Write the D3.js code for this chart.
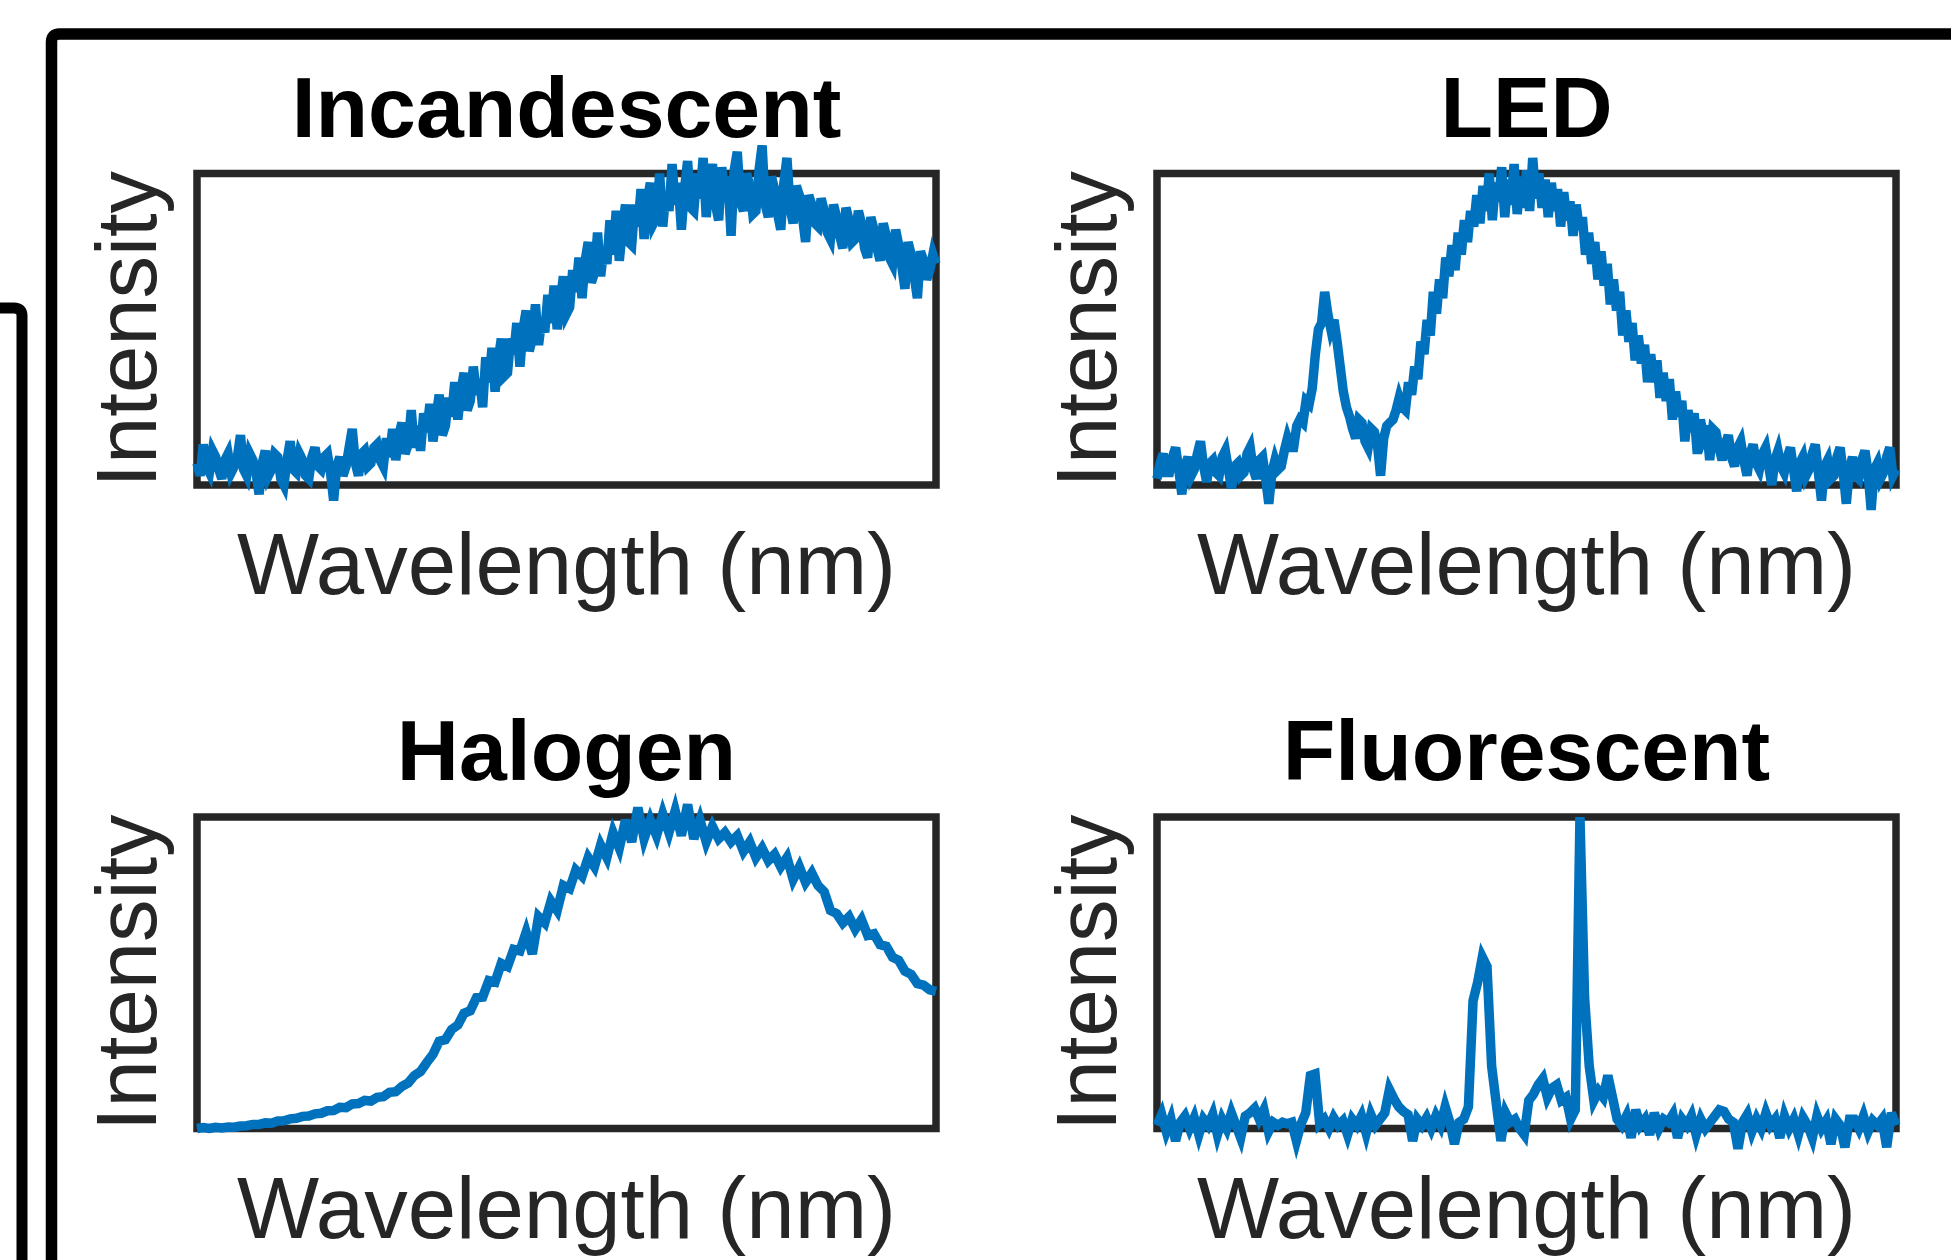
<!DOCTYPE html>
<html>
<head>
<meta charset="utf-8">
<script src="https://cdn.jsdelivr.net/npm/d3@7"></script>
<style>
  body { margin: 0; background: #fff; }
  svg { display: block; }
  text { font-family: "Liberation Sans", Arial, Helvetica, sans-serif; }
</style>
</head>
<body>
<div id="chart"></div>
<script>
// Spectra. Intensity is normalised: 0 = bottom of the box, 1 = top.
// Samples are evenly spaced over the wavelength range (range guessed from the Hg/Tb/Eu lines).
var wlStart = 335, wlEnd = 817;

var incandescent = [
  0.07, 0.03, 0.13, 0.06, 0.04, 0.11, 0.09, 0.05, 0.02, 0.08, 0.10, 0.04, 0.06, 0.09, 0.16, 0.05, 0.03, 0.10, 0.08, 0.04,
  -0.03, 0.07, 0.11, 0.03, 0.05, 0.10, 0.09, 0.02, 0.00, 0.08, 0.14, 0.05, 0.04, 0.10, 0.08, 0.03, 0.02, 0.09, 0.12, 0.06,
  0.05, 0.09, 0.10, 0.04, -0.05, 0.06, 0.09, 0.03, 0.06, 0.12, 0.18, 0.07, 0.03, 0.10, 0.11, 0.06, 0.07, 0.12, 0.13, 0.08,
  0.06, 0.15, 0.09, 0.18, 0.08, 0.16, 0.20, 0.10, 0.13, 0.24, 0.12, 0.19, 0.11, 0.23, 0.17, 0.26, 0.14, 0.22, 0.29, 0.16,
  0.19, 0.28, 0.22, 0.33, 0.21, 0.30, 0.36, 0.24, 0.27, 0.38, 0.29, 0.34, 0.25, 0.41, 0.33, 0.44, 0.30, 0.40, 0.47, 0.35,
  0.36, 0.47, 0.42, 0.52, 0.38, 0.50, 0.56, 0.43, 0.47, 0.58, 0.45, 0.53, 0.49, 0.61, 0.52, 0.64, 0.50, 0.59, 0.67, 0.55,
  0.57, 0.69, 0.62, 0.73, 0.60, 0.72, 0.78, 0.65, 0.68, 0.81, 0.67, 0.76, 0.71, 0.85, 0.74, 0.88, 0.72, 0.82, 0.90, 0.78,
  0.77, 0.90, 0.83, 0.95, 0.79, 0.91, 0.97, 0.84, 0.86, 1.00, 0.83, 0.94, 0.88, 1.03, 0.90, 0.97, 0.82, 0.95, 1.04, 0.89,
  0.88, 1.00, 0.92, 1.05, 0.86, 0.98, 1.03, 0.90, 0.85, 1.02, 0.93, 0.99, 0.80, 1.01, 1.07, 0.91, 0.88, 1.00, 0.96, 0.87,
  0.88, 1.01, 1.09, 0.90, 0.86, 0.99, 0.95, 0.87, 0.82, 0.97, 1.05, 0.89, 0.84, 0.96, 0.93, 0.86, 0.78, 0.93, 0.90, 0.84,
  0.83, 0.92, 0.88, 0.81, 0.79, 0.90, 0.86, 0.80, 0.76, 0.89, 0.85, 0.78, 0.79, 0.88, 0.84, 0.76, 0.73, 0.86, 0.82, 0.76,
  0.72, 0.84, 0.80, 0.73, 0.71, 0.82, 0.77, 0.70, 0.63, 0.78, 0.74, 0.67, 0.60, 0.75, 0.72, 0.66, 0.69, 0.74, 0.71
];

var led = [
  0.02, 0.07, 0.10, 0.04, 0.04, 0.09, 0.12, 0.05, -0.03, 0.06, 0.09, 0.03, 0.05, 0.10, 0.14, 0.06, 0.01, 0.07, 0.08, 0.04,
  0.03, 0.09, 0.11, 0.05, -0.01, 0.06, 0.07, 0.03, 0.04, 0.10, 0.12, 0.05, 0.02, 0.08, 0.09, 0.02, -0.06, 0.04, 0.08, 0.05,
  0.06, 0.11, 0.15, 0.12, 0.12, 0.19, 0.21, 0.20, 0.27, 0.26, 0.31, 0.42, 0.50, 0.52, 0.62, 0.55, 0.50, 0.53, 0.46, 0.38,
  0.30, 0.25, 0.22, 0.18, 0.15, 0.21, 0.20, 0.14, 0.12, 0.18, 0.17, 0.13, 0.03, 0.15, 0.19, 0.20, 0.21, 0.24, 0.28, 0.25,
  0.24, 0.33, 0.29, 0.38, 0.34, 0.46, 0.42, 0.53, 0.48, 0.62, 0.55, 0.66, 0.60, 0.73, 0.67, 0.77, 0.69, 0.81, 0.74, 0.85,
  0.78, 0.88, 0.83, 0.93, 0.84, 0.96, 0.88, 1.00, 0.85, 0.97, 0.91, 1.02, 0.86, 0.98, 0.90, 1.03, 0.87, 0.99, 0.89, 1.01,
  0.88, 1.05, 0.92, 1.00, 0.89, 0.98, 0.86, 0.97, 0.88, 0.95, 0.83, 0.94, 0.85, 0.91, 0.80, 0.90, 0.82, 0.86, 0.74, 0.81,
  0.71, 0.78, 0.66, 0.75, 0.64, 0.71, 0.58, 0.66, 0.56, 0.62, 0.48, 0.56, 0.46, 0.52, 0.40, 0.48, 0.39, 0.45, 0.33, 0.42,
  0.33, 0.40, 0.28, 0.36, 0.27, 0.34, 0.21, 0.30, 0.22, 0.27, 0.14, 0.24, 0.17, 0.23, 0.10, 0.21, 0.16, 0.19, 0.08, 0.18,
  0.17, 0.12, 0.08, 0.13, 0.16, 0.09, 0.06, 0.12, 0.14, 0.08, 0.03, 0.10, 0.13, 0.07, 0.05, 0.10, 0.12, 0.06, 0.00, 0.08,
  0.11, 0.06, 0.04, 0.09, 0.12, 0.05, -0.02, 0.07, 0.09, 0.03, 0.05, 0.10, 0.13, 0.04, -0.05, 0.06, 0.08, 0.02, 0.03, 0.09,
  0.12, 0.04, -0.06, 0.05, 0.09, 0.03, 0.02, 0.08, 0.11, 0.04, -0.08, 0.05, 0.07, 0.02, 0.04, 0.09, 0.12, 0.03, 0.05
];

var halogen = [
  0.000, 0.003, 0.000, 0.004, 0.002, 0.005, 0.004, 0.008, 0.009, 0.013,
  0.013, 0.018, 0.017, 0.024, 0.025, 0.031, 0.033, 0.039, 0.040, 0.047,
  0.049, 0.057, 0.058, 0.068, 0.067, 0.079, 0.080, 0.090, 0.088, 0.100,
  0.102, 0.116, 0.118, 0.135, 0.146, 0.170, 0.183, 0.212, 0.238, 0.280,
  0.285, 0.318, 0.332, 0.370, 0.378, 0.420, 0.422, 0.475, 0.470, 0.530,
  0.520, 0.575, 0.570, 0.630, 0.560, 0.680, 0.660, 0.730, 0.700, 0.780,
  0.770, 0.830, 0.810, 0.870, 0.840, 0.910, 0.870, 0.950, 0.900, 0.990,
  0.920, 1.030, 0.930, 0.990, 0.940, 1.010, 0.950, 1.020, 0.940, 1.040,
  0.930, 0.990, 0.920, 0.970, 0.930, 0.950, 0.920, 0.940, 0.890, 0.920,
  0.870, 0.900, 0.860, 0.880, 0.840, 0.870, 0.800, 0.840, 0.790, 0.820,
  0.780, 0.760, 0.700, 0.690, 0.660, 0.680, 0.640, 0.670, 0.620, 0.625,
  0.590, 0.585, 0.550, 0.540, 0.505, 0.495, 0.465, 0.460, 0.445, 0.440
];

var fluorescent = [
  0.010, 0.045, -0.010, 0.030, -0.040, 0.020, 0.040, 0.000, 0.035, -0.020,
  0.030, 0.010, 0.045, -0.020, 0.030, 0.000, 0.050, 0.010, -0.030, 0.040,
  0.050, 0.065, 0.030, 0.060, -0.010, 0.020, 0.010, 0.020, 0.015, 0.020,
  -0.040, 0.015, 0.050, 0.170, 0.175, 0.015, 0.030, 0.000, 0.035, 0.010,
  0.025, -0.020, 0.030, 0.010, 0.040, -0.015, 0.045, 0.010, 0.030, 0.050,
  0.125, 0.095, 0.070, 0.055, 0.045, -0.040, 0.030, 0.010, 0.035, 0.000,
  0.040, 0.010, 0.070, 0.020, -0.050, 0.020, 0.030, 0.070, 0.410, 0.470,
  0.550, 0.520, 0.200, 0.080, -0.040, 0.050, 0.020, 0.030, 0.000, -0.020,
  0.090, 0.110, 0.140, 0.160, 0.100, 0.130, 0.140, 0.090, 0.100, 0.030,
  0.060, 1.000, 0.420, 0.200, 0.090, 0.120, 0.100, 0.170, 0.100, 0.030,
  0.010, 0.040, -0.030, 0.060, 0.010, 0.030, -0.020, 0.050, 0.000, 0.030,
  0.020, 0.045, -0.030, 0.030, 0.010, 0.040, -0.020, 0.030, 0.000, 0.020,
  0.040, 0.060, 0.055, 0.030, 0.020, -0.065, 0.020, 0.045, -0.010, 0.030,
  0.000, 0.050, 0.010, 0.030, -0.030, 0.040, 0.000, 0.030, -0.020, 0.035,
  0.010, -0.030, 0.040, 0.000, 0.025, -0.050, 0.030, 0.010, -0.060, 0.030,
  0.030, 0.000, 0.040, -0.010, 0.025, 0.010, 0.030, -0.060, 0.050, 0.010
];

var titles = ["Incandescent", "LED", "Halogen", "Fluorescent"];
var xLabel = "Wavelength (nm)";
var yLabel = "Intensity";

var panels = [
  { title: titles[0], values: incandescent, col: 0, row: 0 },
  { title: titles[1], values: led,          col: 1, row: 0 },
  { title: titles[2], values: halogen,      col: 0, row: 1 },
  { title: titles[3], values: fluorescent,  col: 1, row: 1 }
];

// box geometry (pixels)
var colLeft = [197, 1157];
var rowTop = [173.5, 817];
var boxW = 739, boxH = 311.5;

var svg = d3.select("#chart")
    .append("svg")
    .attr("width", 1951)
    .attr("height", 1260);

// frames of the neighbouring figure panels, cut by the page edge
svg.append("path")
    .attr("d", "M51.5,1280 V42 Q51.5,34 59.5,34 H1970")
    .attr("fill", "none")
    .attr("stroke", "#000")
    .attr("stroke-width", 11.5);
svg.append("path")
    .attr("d", "M-20,308 H14 Q22,308 22,316 V1280")
    .attr("fill", "none")
    .attr("stroke", "#000")
    .attr("stroke-width", 11);

panels.forEach(function(p) {
    var x0 = colLeft[p.col], y0 = rowTop[p.row];

    var x = d3.scaleLinear().domain([wlStart, wlEnd]).range([x0, x0 + boxW]);
    var y = d3.scaleLinear().domain([0, 1]).range([y0 + boxH, y0]);

    var g = svg.append("g").attr("class", "panel");

    // axes box, no ticks
    g.append("rect")
        .attr("x", x.range()[0])
        .attr("y", y.range()[1])
        .attr("width", x.range()[1] - x.range()[0])
        .attr("height", y.range()[0] - y.range()[1])
        .attr("fill", "none")
        .attr("stroke", "#262626")
        .attr("stroke-width", 7.5);

    var n = p.values.length;
    var line = d3.line()
        .x(function(d, i) { return x(wlStart + i * (wlEnd - wlStart) / (n - 1)); })
        .y(function(d) { return y(d); });

    g.append("path")
        .datum(p.values)
        .attr("d", line)
        .attr("fill", "none")
        .attr("stroke", "#0072BD")
        .attr("stroke-width", 9.5)
        .attr("stroke-linejoin", "miter");

    var cx = (x.range()[0] + x.range()[1]) / 2;

    g.append("text")
        .attr("x", cx)
        .attr("y", y0 - 37)
        .attr("text-anchor", "middle")
        .style("font-size", "86px")
        .style("font-weight", "bold")
        .style("fill", "#000")
        .text(p.title);

    g.append("text")
        .attr("x", cx)
        .attr("y", y0 + boxH + 109)
        .attr("text-anchor", "middle")
        .style("font-size", "87px")
        .style("fill", "#262626")
        .text(xLabel);

    g.append("text")
        .attr("transform", "translate(" + (x0 - 41) + "," + (y0 + boxH / 2) + ") rotate(-90)")
        .attr("text-anchor", "middle")
        .style("font-size", "85px")
        .style("fill", "#262626")
        .text(yLabel);
});
</script>
</body>
</html>
